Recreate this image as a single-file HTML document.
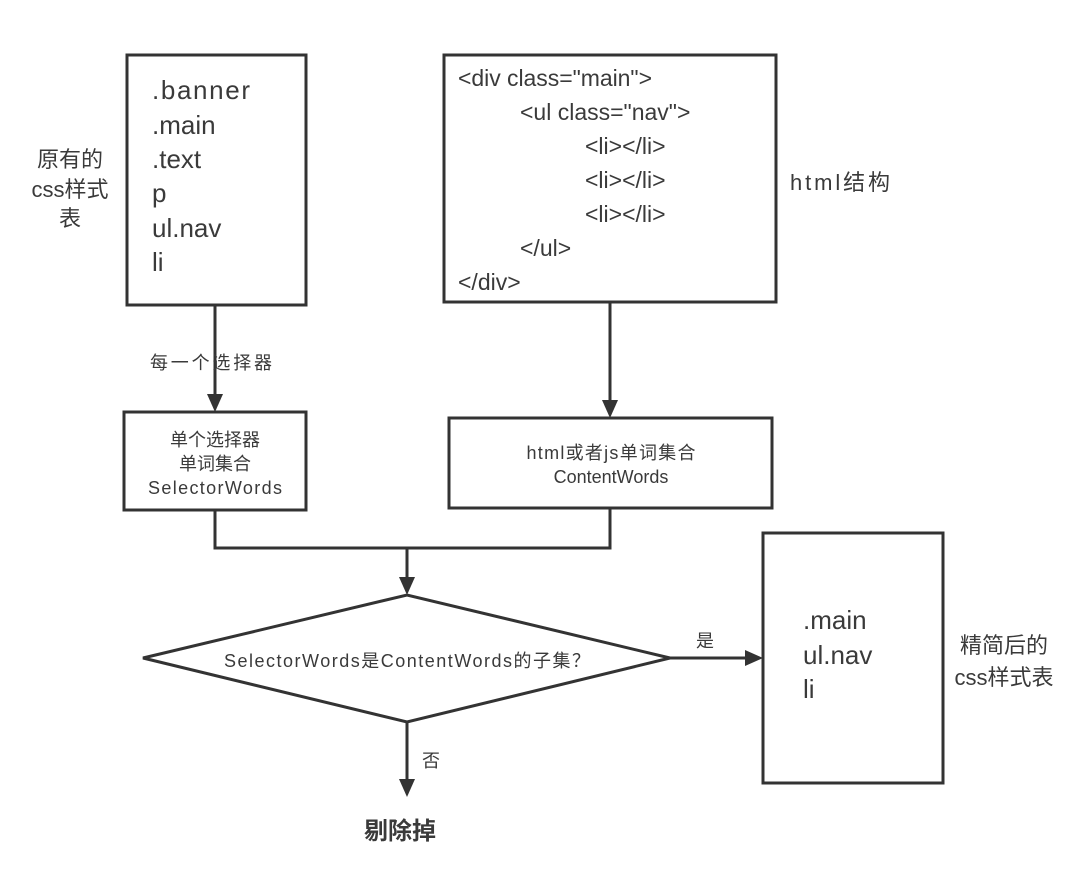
<!DOCTYPE html>
<html><head><meta charset="utf-8"><style>
body{margin:0;background:#fff}
svg text{font-family:"Liberation Sans","Noto Sans CJK SC",sans-serif;fill:#3a3a3a}
</style></head><body>
<svg width="1080" height="877" viewBox="0 0 1080 877" xmlns="http://www.w3.org/2000/svg">
<g fill="none" stroke="#333" stroke-width="3">
<rect x="127" y="55" width="179" height="250"/>
<rect x="444" y="55" width="332" height="247"/>
<rect x="124" y="412" width="182" height="98"/>
<rect x="449" y="418" width="323" height="90"/>
<rect x="763" y="533" width="180" height="250"/>
<polygon points="143,658 407,595 670,658 407,722"/>
<line x1="215" y1="305" x2="215" y2="398"/>
<line x1="610" y1="302" x2="610" y2="404"/>
<polyline points="215,510 215,548 610,548 610,508"/>
<line x1="407" y1="548" x2="407" y2="581"/>
<line x1="670" y1="658" x2="749" y2="658"/>
<line x1="407" y1="722" x2="407" y2="783"/>
</g>
<g fill="#333">
<path d="M207,394 L223,394 L215,412 z"/>
<path d="M602,400 L618,400 L610,418 z"/>
<path d="M399,577 L415,577 L407,595 z"/>
<path d="M745,650 L745,666 L763,658 z"/>
<path d="M399,779 L415,779 L407,797 z"/>
</g>
<g font-size="26">
<text x="152" y="99" textLength="98">.banner</text>
<text x="152" y="134">.main</text>
<text x="152" y="168">.text</text>
<text x="152" y="202">p</text>
<text x="152" y="237">ul.nav</text>
<text x="152" y="271">li</text>
</g>
<g font-size="23">
<text x="458" y="86" textLength="194">&lt;div class="main"&gt;</text>
<text x="520" y="120">&lt;ul class="nav"&gt;</text>
<text x="585" y="154">&lt;li&gt;&lt;/li&gt;</text>
<text x="585" y="188">&lt;li&gt;&lt;/li&gt;</text>
<text x="585" y="222">&lt;li&gt;&lt;/li&gt;</text>
<text x="520" y="256">&lt;/ul&gt;</text>
<text x="458" y="290">&lt;/div&gt;</text>
</g>
<g font-size="22" text-anchor="middle">
<text x="70" y="167">原有的</text>
<text x="70" y="197">css样式</text>
<text x="70" y="226">表</text>
<text x="1004" y="653">精简后的</text>
<text x="1004" y="685">css样式表</text>
</g>
<text x="790" y="190" font-size="22" textLength="100">html结构</text>
<g font-size="18" text-anchor="middle">
<text x="211" y="369" textLength="122">每一个选择器</text>
<text x="215" y="446">单个选择器</text>
<text x="215" y="470">单词集合</text>
<text x="215" y="494" textLength="134">SelectorWords</text>
<text x="611" y="459" textLength="169">html或者js单词集合</text>
<text x="611" y="483">ContentWords</text>
<text x="407" y="667" textLength="366">SelectorWords是ContentWords的子集？</text>
<text x="705" y="647">是</text>
<text x="431" y="767">否</text>
</g>
<g font-size="26">
<text x="803" y="629">.main</text>
<text x="803" y="664">ul.nav</text>
<text x="803" y="698">li</text>
</g>
<text x="400" y="839" font-size="24" font-weight="bold" text-anchor="middle">剔除掉</text>
</svg>
</body></html>
